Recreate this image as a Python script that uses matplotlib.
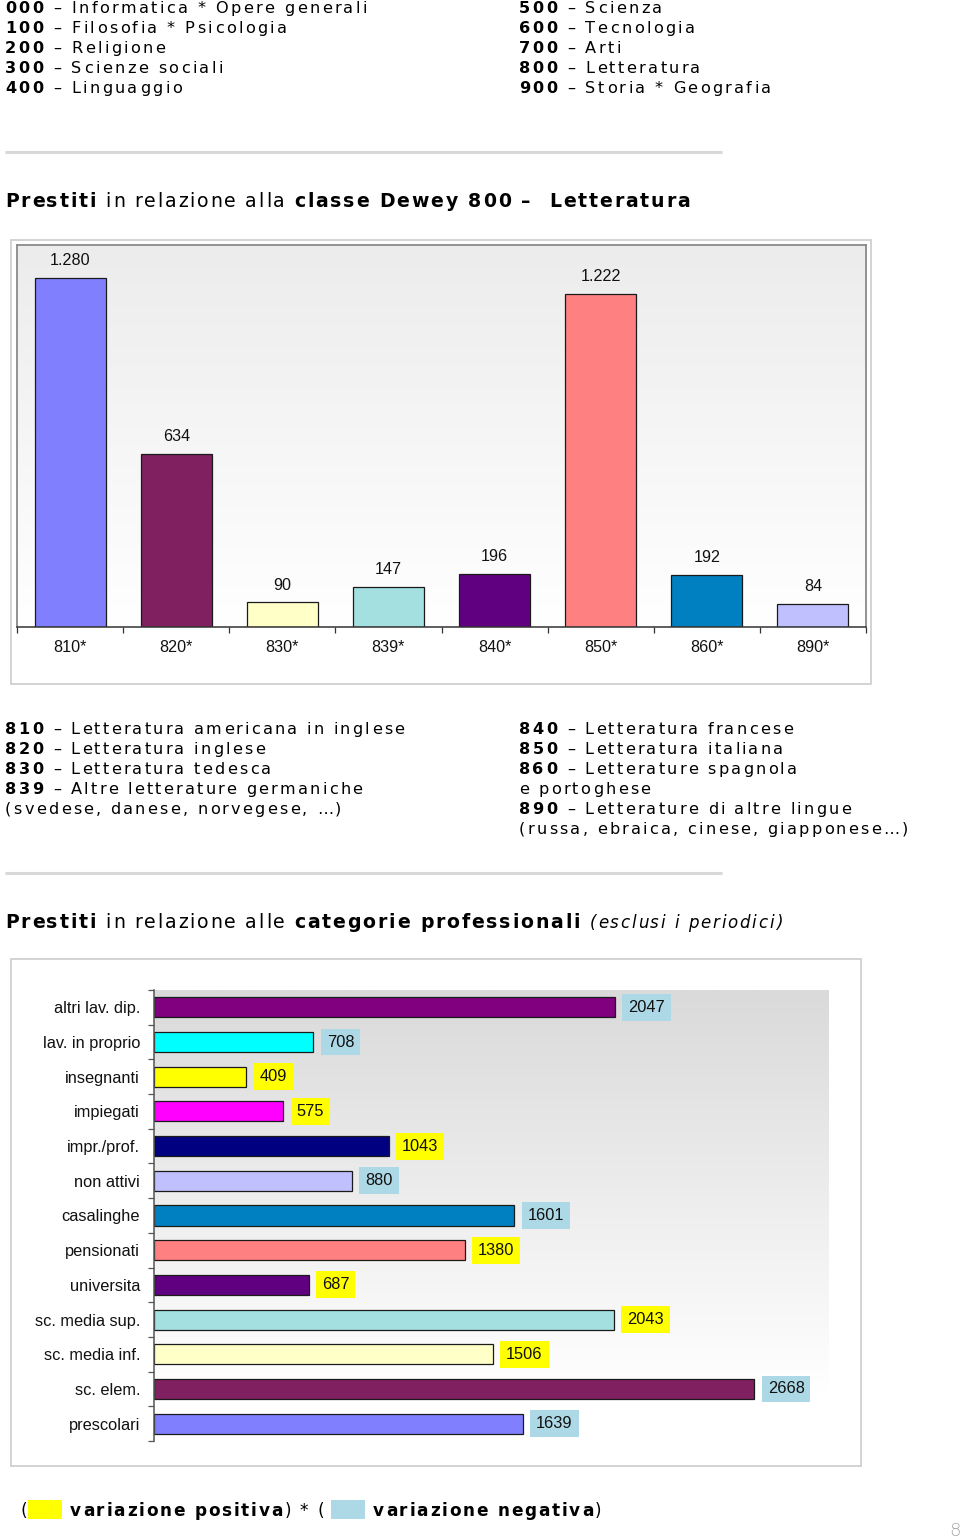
import numpy as np
import matplotlib
matplotlib.use("Agg")
import matplotlib.pyplot as plt
from matplotlib.patches import Rectangle
from matplotlib.colors import LinearSegmentedColormap
from matplotlib.font_manager import FontProperties, findfont, get_font
try:
    from matplotlib.ft2font import LoadFlags
    NOHINT = LoadFlags.NO_HINTING
except ImportError:
    from matplotlib.ft2font import LOAD_NO_HINTING as NOHINT

# ---------------- data ----------------
dewey_main_codes_left = ["000", "100", "200", "300", "400"]
dewey_main_names_left = ["Informatica * Opere generali", "Filosofia * Psicologia",
                         "Religione", "Scienze sociali", "Linguaggio"]
dewey_main_codes_right = ["500", "600", "700", "800", "900"]
dewey_main_names_right = ["Scienza", "Tecnologia", "Arti", "Letteratura",
                          "Storia * Geografia"]

lit_classes = ["810*", "820*", "830*", "839*", "840*", "850*", "860*", "890*"]
lit_values = [1280, 634, 90, 147, 196, 1222, 192, 84]
lit_colors = ["#8080ff", "#802060", "#ffffc8", "#a4e0e0", "#600080",
              "#ff8080", "#0080c0", "#c0c0ff"]

lit_legend_left = [("810", " – Letteratura americana in inglese"),
                   ("820", " – Letteratura inglese"),
                   ("830", " – Letteratura tedesca"),
                   ("839", " – Altre letterature germaniche"),
                   ("", "(svedese, danese, norvegese, …)")]
lit_legend_right = [("840", " – Letteratura francese"),
                    ("850", " – Letteratura italiana"),
                    ("860", " – Letterature spagnola"),
                    ("", "e portoghese"),
                    ("890", " – Letterature di altre lingue"),
                    ("", "(russa, ebraica, cinese, giapponese…)")]

prof_categories = ["altri lav. dip.", "lav. in proprio", "insegnanti", "impiegati",
                   "impr./prof.", "non attivi", "casalinghe", "pensionati",
                   "universita", "sc. media sup.", "sc. media inf.", "sc. elem.",
                   "prescolari"]
prof_values = [2047, 708, 409, 575, 1043, 880, 1601, 1380, 687, 2043, 1506, 2668, 1639]
prof_variation = ["neg", "neg", "pos", "pos", "pos", "neg", "neg", "pos", "pos",
                  "pos", "pos", "neg", "neg"]
prof_colors = ["#800080", "#00ffff", "#ffff00", "#ff00ff", "#000080", "#c0c0ff",
               "#0080c0", "#ff8080", "#600080", "#a4e0e0", "#ffffc8", "#802060",
               "#8080ff"]
variation_colors = {"pos": "#ffff00", "neg": "#add8e6"}

# ---------------- helpers ----------------
W, H = 960, 1538
fig = plt.figure(figsize=(W / 100, H / 100), dpi=100)
page = fig.add_axes([0, 0, 1, 1])
page.set_xlim(0, W)
page.set_ylim(H, 0)
page.axis("off")

FAM = "DejaVu Sans"


def fprop(size, weight="normal", style="normal"):
    return FontProperties(family=FAM, size=size, weight=weight, style=style)


def adv_px(ch, fp):
    font = get_font(findfont(fp))
    font.set_size(fp.get_size_in_points(), 72)
    g = font.load_char(ord(ch), flags=NOHINT)
    return g.linearHoriAdvance / 65536 * 100 / 72


def seg_size(seg, size):
    return size * (seg[3] if len(seg) > 3 else 1.0)


def natural(segments, size):
    w, n = 0.0, 0
    for seg in segments:
        fp = fprop(seg_size(seg, size), seg[1], seg[2])
        for ch in seg[0]:
            w += adv_px(ch, fp)
            n += 1
    return w, n


def fit_tracking(segments, size, target):
    w, n = natural(segments, size)
    return (target - w) / (n - 1)


def draw_tracked(x, y, segments, size, tracking, color="black"):
    for seg in segments:
        fp = fprop(seg_size(seg, size), seg[1], seg[2])
        for ch in seg[0]:
            if ch != " ":
                page.text(x, y, ch, fontproperties=fp, va="baseline", ha="left",
                          color=color)
            x += adv_px(ch, fp) + tracking
    return x


def code_line(code, rest):
    segs = []
    if code:
        segs.append((code, "bold", "normal"))
    segs.append((rest, "normal", "normal"))
    return segs


def frac(l, t, r, b):
    return [l / W, 1 - b / H, (r - l) / W, (b - t) / H]


BODY = 11.6
TITLE = 13.6
LEGEND = 12.2
body_track = fit_tracking(code_line("000", " – Informatica * Opere generali"), BODY, 362)

# ---------------- header ----------------
for i, (c, n) in enumerate(zip(dewey_main_codes_left, dewey_main_names_left)):
    draw_tracked(5, 13 + 20 * i, code_line(c, " – " + n), BODY, body_track)
for i, (c, n) in enumerate(zip(dewey_main_codes_right, dewey_main_names_right)):
    draw_tracked(519, 13 + 20 * i, code_line(c, " – " + n), BODY, body_track)

page.plot([5, 722], [152, 152], color="#d8d8d8", lw=2.2, solid_capstyle="butt")
page.plot([5, 722], [873, 873], color="#d8d8d8", lw=2.2, solid_capstyle="butt")

title1 = [("Prestiti", "bold", "normal"), (" in relazione alla ", "normal", "normal"),
          ("classe Dewey 800 –  Letteratura", "bold", "normal")]
title_track = fit_tracking(title1, TITLE, 685)
draw_tracked(5, 207, title1, TITLE, title_track)

title2 = [("Prestiti", "bold", "normal"), (" in relazione alle ", "normal", "normal"),
          ("categorie professionali", "bold", "normal"), (" ", "normal", "normal"),
          ("(esclusi i periodici)", "normal", "italic", 0.88)]
draw_tracked(5, 928, title2, TITLE, title_track)

lit_track = body_track - 0.15
for i, (c, t) in enumerate(lit_legend_left):
    draw_tracked(5, 734 + 20 * i, code_line(c, t), BODY, lit_track)
for i, (c, t) in enumerate(lit_legend_right):
    draw_tracked(519, 734 + 20 * i, code_line(c, t), BODY, lit_track)

# ---------------- chart 1 ----------------
page.add_patch(Rectangle((11, 240), 860, 444, fill=False, ec="#d0d0d0", lw=1.3))
ax1 = fig.add_axes(frac(17, 245, 866, 627))
cm1 = LinearSegmentedColormap.from_list("g1", ["#ececec", "#ffffff"])
grad = np.linspace(0, 1, 256).reshape(-1, 1)
ax1.imshow(grad, extent=(-0.5, 7.5, 0, 1400), aspect="auto", cmap=cm1,
           origin="upper", zorder=0)
x1 = np.arange(len(lit_classes))
ax1.bar(x1, lit_values, width=0.67, color=lit_colors, edgecolor="#1a1a1a",
        linewidth=0.9, zorder=2)
for i, v in enumerate(lit_values):
    ax1.annotate(f"{v:,}".replace(",", "."), (i, v), xytext=(0, 12.5),
                 textcoords="offset points", ha="center", va="center",
                 fontsize=11.6, family="Liberation Sans", color="#111")
ax1.set_xlim(-0.5, 7.5)
ax1.set_ylim(0, 1400)
ax1.set_xticks(x1)
ax1.set_xticklabels(lit_classes, family="Liberation Sans", fontsize=11.6, color="#111")
ax1.set_xticks(np.arange(-0.5, len(lit_classes), 1), minor=True)
ax1.tick_params(axis="x", which="major", length=0, pad=9.0)
ax1.tick_params(axis="x", which="minor", length=4, width=0.9, color="#333",
                direction="out")
ax1.set_yticks([])
for s in ["left", "top", "right"]:
    ax1.spines[s].set_color("#8a8a8a")
    ax1.spines[s].set_linewidth(1.3)
ax1.spines["bottom"].set_color("#333")
ax1.spines["bottom"].set_linewidth(1.1)
ax1.set_facecolor("none")

# ---------------- chart 2 ----------------
page.add_patch(Rectangle((11, 959), 850, 507, fill=False, ec="#d0d0d0", lw=1.3))
ax2 = fig.add_axes(frac(154, 990, 829, 1441))
cm2 = LinearSegmentedColormap.from_list("g2", ["#dadada", "#ffffff"])
grad2 = np.clip(np.linspace(0, 1.12, 256), 0, 1).reshape(-1, 1)
ax2.imshow(grad2, extent=(0, 3000, 12.5, -0.5), aspect="auto", cmap=cm2,
           origin="upper", zorder=0)
y2 = np.arange(len(prof_categories))
ax2.barh(y2, prof_values, height=0.58, color=prof_colors, edgecolor="#1a1a1a",
         linewidth=0.9, zorder=2)
for i, (v, var) in enumerate(zip(prof_values, prof_variation)):
    ax2.annotate(str(v), (v, i), xytext=(9.6, 0), textcoords="offset points",
                 ha="left", va="center", fontsize=11.8, family="Liberation Sans",
                 color="#111", zorder=3,
                 bbox=dict(boxstyle="square,pad=0.36", fc=variation_colors[var],
                           ec="none"))
ax2.set_xlim(0, 3000)
ax2.set_ylim(12.5, -0.5)
ax2.set_yticks(y2)
ax2.set_yticklabels(prof_categories, family="Liberation Sans", fontsize=11.8,
                    color="#111")
ax2.set_yticks(np.arange(-0.5, len(prof_categories), 1), minor=True)
ax2.tick_params(axis="y", which="major", length=0, pad=10)
ax2.tick_params(axis="y", which="minor", length=4, width=0.9, color="#555",
                direction="out")
ax2.set_xticks([])
for s in ["top", "right", "bottom"]:
    ax2.spines[s].set_visible(False)
ax2.spines["left"].set_color("#555")
ax2.spines["left"].set_linewidth(1.1)
ax2.set_facecolor("none")

# ---------------- bottom legend ----------------
leg_pos = [("variazione positiva", "bold", "normal"), (") * (", "normal", "normal")]
leg_track = fit_tracking(leg_pos, LEGEND, 254)
draw_tracked(20, 1516, [("(", "normal", "normal")], LEGEND, leg_track)
page.add_patch(Rectangle((28, 1500), 34, 19, fc=variation_colors["pos"], ec="none"))
draw_tracked(70, 1516, leg_pos, LEGEND, leg_track)
page.add_patch(Rectangle((331, 1500), 34, 19, fc=variation_colors["neg"], ec="none"))
draw_tracked(373, 1516, [("variazione negativa", "bold", "normal"),
                         (")", "normal", "normal")], LEGEND, leg_track)

page.text(949, 1536, "8", fontsize=13, family="DejaVu Sans", weight="light",
          color="#a8a8a8", ha="left", va="baseline")

fig.savefig("out.png", dpi=100)
